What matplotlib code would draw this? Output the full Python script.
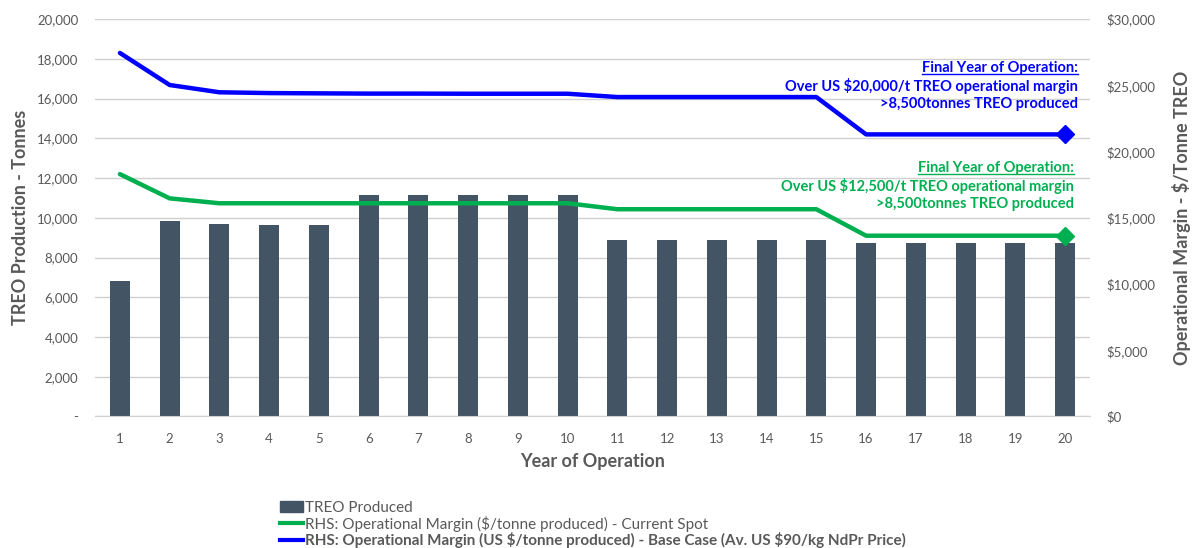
import matplotlib.pyplot as plt
from matplotlib.ticker import FuncFormatter
from matplotlib.lines import Line2D
from matplotlib.patches import Patch

plt.rcParams['font.family'] = ['Lato', 'DejaVu Sans']
plt.rcParams['text.parse_math'] = False

# Data
years = list(range(1, 21))
treo_produced = [6800, 9830, 9680, 9630, 9630, 11130, 11130, 11130, 11130, 11130,
                 8900, 8900, 8900, 8900, 8900, 8740, 8740, 8740, 8740, 8740]
margin_spot = [18300, 16470, 16100, 16100, 16100, 16100, 16100, 16100, 16100, 16100,
               15650, 15650, 15650, 15650, 15650, 13650, 13650, 13650, 13650, 13650]
margin_base = [27450, 25030, 24480, 24420, 24400, 24380, 24380, 24370, 24370, 24370,
               24120, 24120, 24120, 24120, 24120, 21300, 21300, 21300, 21300, 21300]

bar_col = '#435464'
green = '#00B050'
blue = '#0000FF'
grey = '#595959'

fig = plt.figure(figsize=(12.03, 5.48), dpi=100)
ax1 = fig.add_axes([0.079, 0.24, 0.827, 0.725])
ax2 = ax1.twinx()

ax1.bar(years, treo_produced, width=0.4, color=bar_col, zorder=2)
ax2.plot(years, margin_spot, color=green, lw=3.2, solid_capstyle='round', zorder=3)
ax2.plot(years, margin_base, color=blue, lw=3.2, solid_capstyle='round', zorder=3)
ax2.plot(years[-1], margin_spot[-1], marker='D', ms=9, color=green, zorder=4)
ax2.plot(years[-1], margin_base[-1], marker='D', ms=9, color=blue, zorder=4)

ax1.set_xlim(0.5, 20.5)
ax1.set_ylim(0, 20000)
ax2.set_ylim(0, 30000)
ax1.set_yticks(range(0, 20001, 2000))
ax2.set_yticks(range(0, 30001, 5000))
ax1.set_xticks(years)
ax1.yaxis.set_major_formatter(FuncFormatter(lambda v, p: '-' if v == 0 else f'{v:,.0f}'))
ax2.yaxis.set_major_formatter(FuncFormatter(lambda v, p: f'${v:,.0f}'))

ax1.grid(axis='y', color='#D0D0D0', lw=1, zorder=0)
ax1.set_axisbelow(True)
for ax in (ax1, ax2):
    for s in ax.spines.values():
        s.set_visible(False)
    ax.tick_params(length=0, labelsize=9.5, labelcolor=grey)
ax1.spines['bottom'].set_visible(True)
ax1.spines['bottom'].set_color('#D0D0D0')
ax1.tick_params(axis='x', pad=12)
ax1.tick_params(axis='y', pad=12)
ax2.tick_params(axis='y', pad=12)

ax1.set_xlabel('Year of Operation', fontsize=13, fontweight='bold', color=grey, labelpad=6)
ax1.set_ylabel('TREO Production - Tonnes', fontsize=13, fontweight='bold', color=grey, labelpad=6)
ax2.set_ylabel('Operational Margin - $/Tonne TREO', fontsize=13, fontweight='bold', color=grey, labelpad=12)

# annotations
def note(x, y, lines, color):
    texts = []
    for i, s in enumerate(lines):
        t = fig.text(x, y - i * 0.033, s, ha='right', va='center', color=color,
                     fontsize=10.5, fontweight='bold')
        texts.append(t)
    return texts

blue_notes = note(0.896, 0.876, ['Final Year of Operation:',
                                 'Over US $20,000/t TREO operational margin',
                                 '>8,500tonnes TREO produced'], blue)
green_notes = note(0.893, 0.693, ['Final Year of Operation:',
                                  'Over US $12,500/t TREO operational margin',
                                  '>8,500tonnes TREO produced'], green)

# underline the headings
fig.canvas.draw()
r = fig.canvas.get_renderer()
for t, c in ((blue_notes[0], blue), (green_notes[0], green)):
    bb = t.get_window_extent(r).transformed(fig.transFigure.inverted())
    fig.add_artist(Line2D([bb.x0, bb.x1], [bb.y0 + 0.002, bb.y0 + 0.002],
                          transform=fig.transFigure, color=c, lw=1))

handles = [Patch(color=bar_col),
           Line2D([], [], color=green, lw=3),
           Line2D([], [], color=blue, lw=3)]
labels = ['TREO Produced',
          'RHS: Operational Margin ($/tonne produced) - Current Spot',
          'RHS: Operational Margin (US $/tonne produced) - Base Case (Av. US $90/kg NdPr Price)']
leg = fig.legend(handles, labels, loc='lower left', bbox_to_anchor=(0.228, -0.012),
                 frameon=False, fontsize=11, handlelength=1.5, handletextpad=0.1,
                 labelspacing=0.05, borderaxespad=0)
for i, txt in enumerate(leg.get_texts()):
    txt.set_color(grey)
    if i == 2:
        txt.set_fontweight('bold')

fig.savefig('out.png', dpi=100)
